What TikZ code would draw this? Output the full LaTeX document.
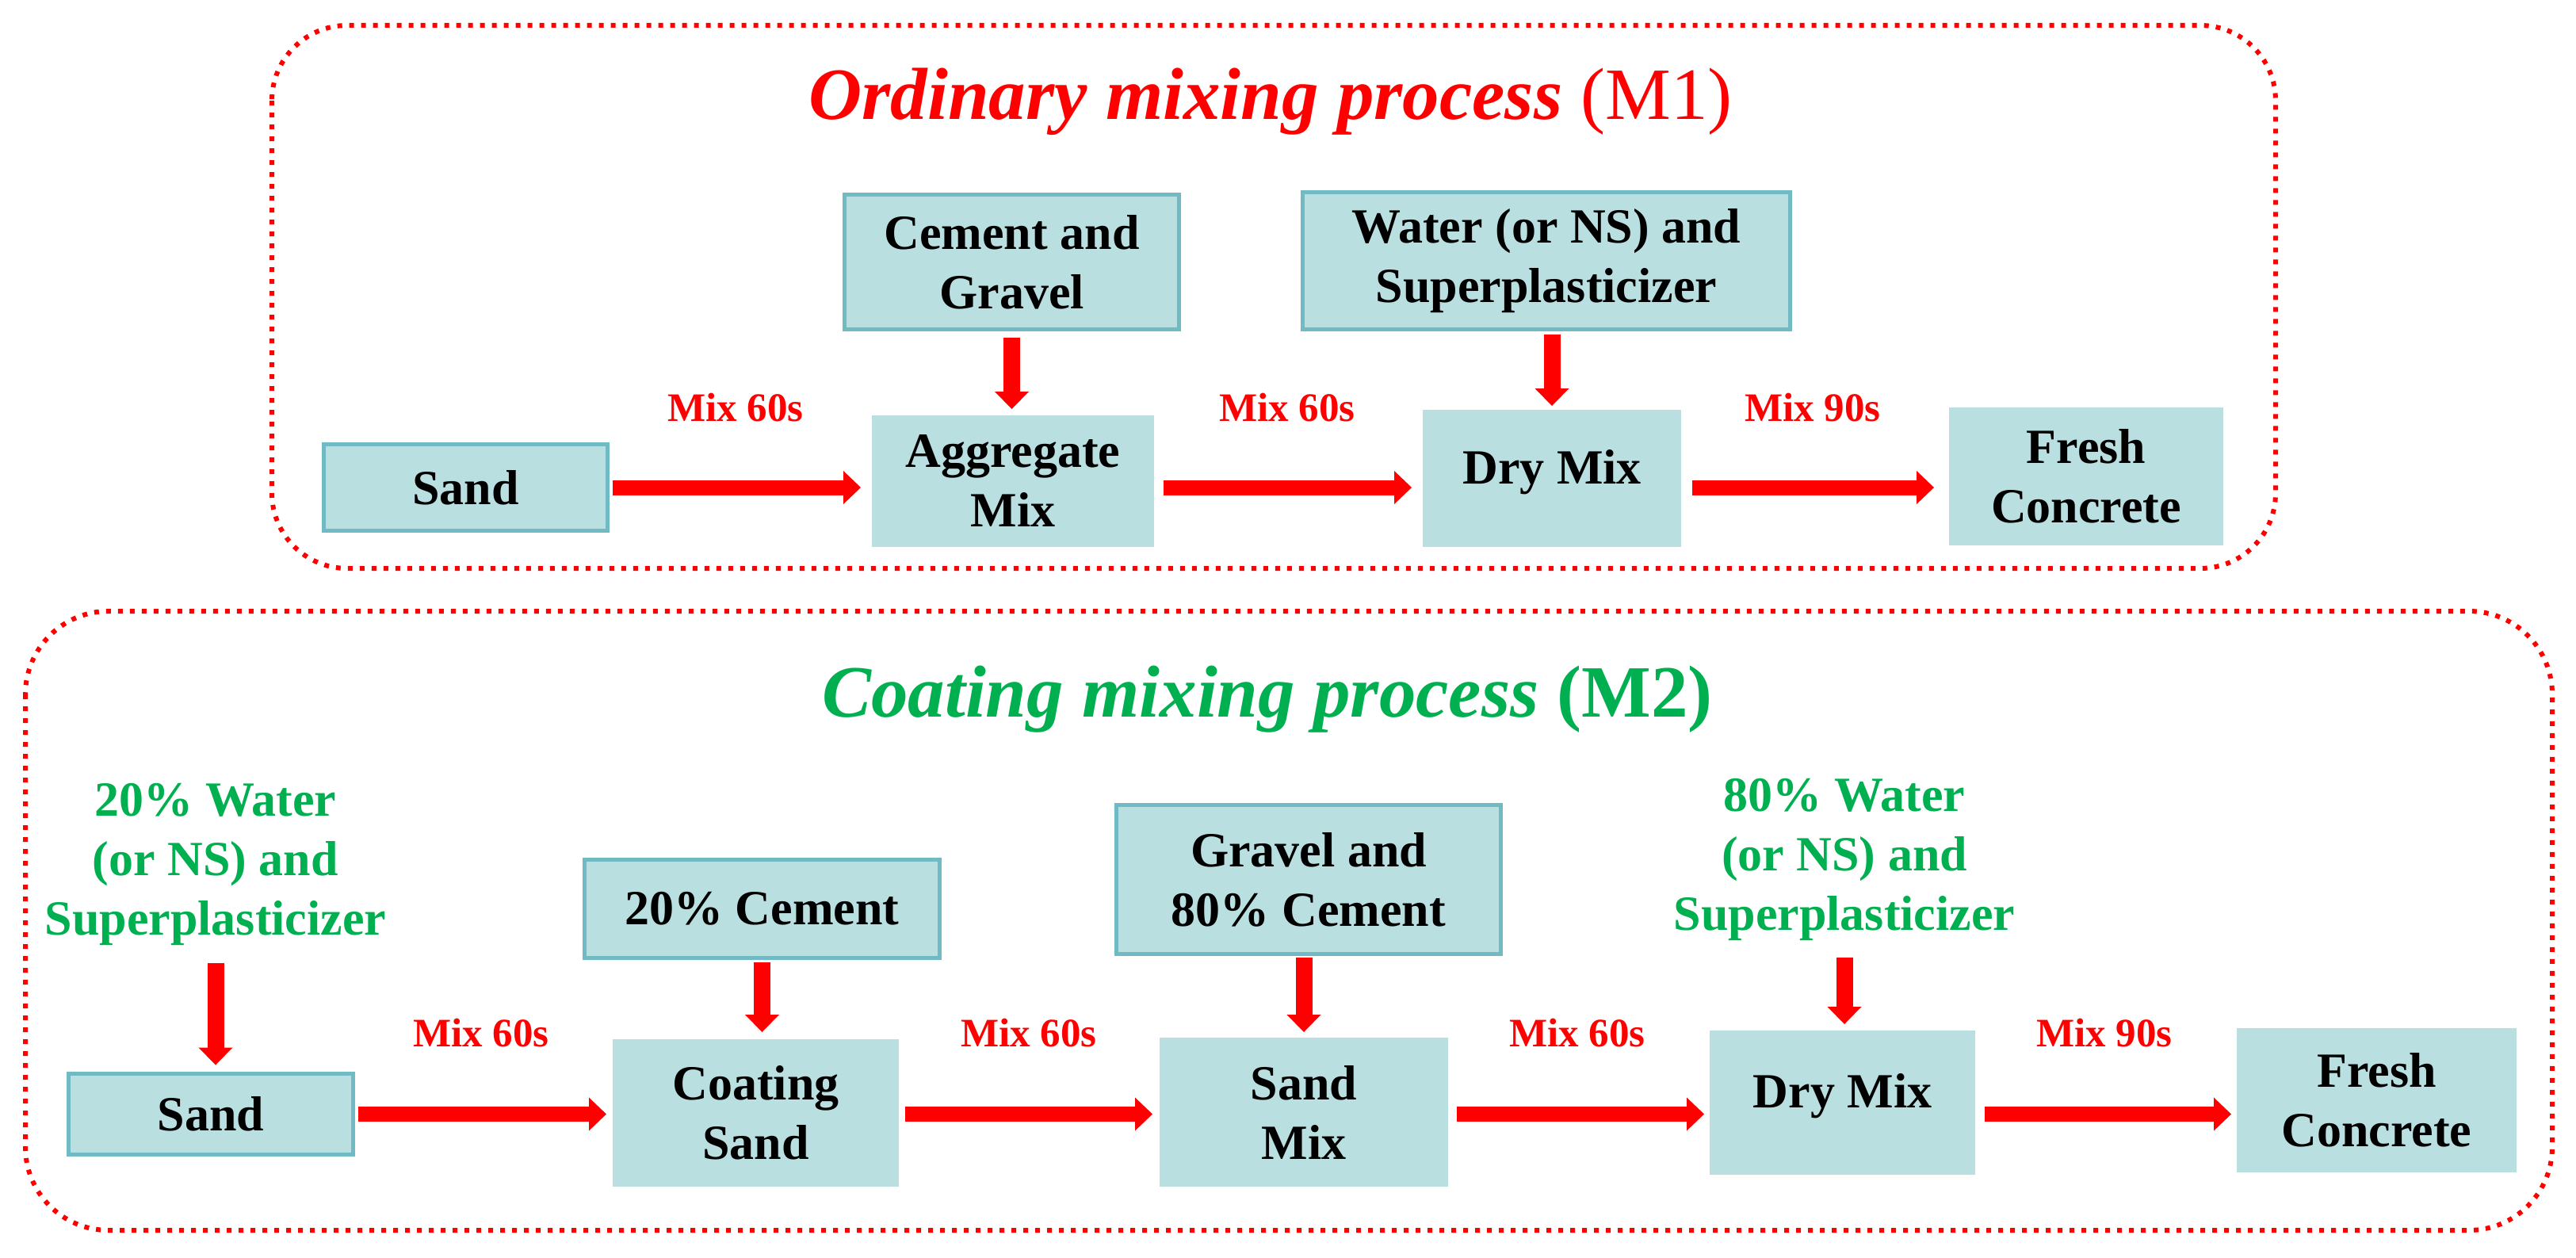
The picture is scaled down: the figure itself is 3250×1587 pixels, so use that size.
\documentclass[tikz,border=0pt]{standalone}
\usepackage{fontspec}
\setmainfont{Liberation Serif}
\usetikzlibrary{arrows.meta,calc}
\definecolor{boxfill}{RGB}{185,223,224}
\definecolor{boxline}{RGB}{112,187,195}
\definecolor{mygreen}{RGB}{0,176,80}
\definecolor{myred}{RGB}{255,0,0}
\begin{document}
\begin{tikzpicture}[x=1pt,y=-1pt,
  box/.style={rectangle, fill=boxfill, inner sep=0pt, outer sep=0pt, align=center, font=\fontsize{62pt}{75pt}\selectfont\bfseries},
  bbox/.style={box, draw=boxline, line width=5pt},
  harr/.style={myred, line width=19pt, -{Triangle[length=22pt,width=42pt,line width=0pt]}},
  varr/.style={myred, line width=21pt, -{Triangle[length=22pt,width=43pt,line width=0pt]}},
  mixlab/.style={anchor=base, text=myred, inner sep=0pt, font=\fontsize{51pt}{61pt}\selectfont\bfseries},
  gtext/.style={text=mygreen, align=center, inner sep=0pt, font=\fontsize{62pt}{75pt}\selectfont\bfseries},
  dotframe/.style={myred, line width=6pt, dash pattern=on 6pt off 9pt},
  ttl/.style={anchor=base, inner sep=0pt, font=\fontsize{93pt}{110pt}\selectfont}
]
\useasboundingbox (0,0) rectangle (3250,1587);

% frames
\draw[dotframe, rounded corners=95pt] (343,32) rectangle (2871,717);
\draw[dotframe, rounded corners=105pt] (32,771) rectangle (3220,1552);

% titles
\node[ttl, text=myred] (t1) at (1603,150) {\textbf{\textit{Ordinary mixing process}} (M1)};
\node[ttl, text=mygreen] (t2) at (1599,904) {\textbf{\textit{Coating mixing process}} \textbf{(M2)}};

% top row
\node[bbox, minimum width=358pt, minimum height=109pt] (sand1) at (587.5,615) {Sand};
\node[bbox, minimum width=422pt, minimum height=170pt] (cg) at (1276.5,330.5) {Cement and\\Gravel};
\node[box, minimum width=356pt, minimum height=166pt] (agg) at (1278,607) {Aggregate\\Mix};
\node[bbox, minimum width=615pt, minimum height=173pt] (water1) at (1951,329) {Water (or NS) and\\Superplasticizer};
\node[box, minimum width=326pt, minimum height=173pt, text depth=30pt] (dry1) at (1958,603.5) {Dry Mix};
\node[box, minimum width=346pt, minimum height=174pt] (fresh1) at (2632,601) {Fresh\\Concrete};

\node[mixlab] (m11) at (928,531) {Mix 60s};
\node[mixlab] (m12) at (1624,531) {Mix 60s};
\node[mixlab] (m13) at (2287,531) {Mix 90s};

\draw[harr, shorten <=6pt, shorten >=14pt] (sand1.east) -- (sand1.east -| agg.west);
\draw[harr, shorten <=12pt, shorten >=14pt] (agg.east |- sand1.east) -- (dry1.west |- sand1.east);
\draw[harr, shorten <=14pt, shorten >=19pt] (dry1.east |- sand1.east) -- (fresh1.west |- sand1.east);
\draw[varr, shorten <=10pt, shorten >=8pt] (cg.south) -- (cg.south |- agg.north);
\draw[varr, shorten <=6pt, shorten >=5pt] (dry1.north |- water1.south) -- (dry1.north);

% bottom row
\node[gtext] (g1) at (272,1090) {20\% Water\\(or NS) and\\Superplasticizer};
\node[gtext] (g2) at (2327,1084) {80\% Water\\(or NS) and\\Superplasticizer};
\node[bbox, minimum width=359pt, minimum height=102pt] (sand2) at (266,1405.5) {Sand};
\node[bbox, minimum width=448pt, minimum height=124pt] (c20) at (961.5,1146.5) {20\% Cement};
\node[box, minimum width=361pt, minimum height=186pt] (coat) at (953.5,1404) {Coating\\Sand};
\node[bbox, minimum width=485pt, minimum height=188pt] (gc80) at (1651,1109.5) {Gravel and\\80\% Cement};
\node[box, minimum width=364pt, minimum height=188pt] (smix) at (1645,1403) {Sand\\Mix};
\node[box, minimum width=335pt, minimum height=182pt, text depth=30pt] (dry2) at (2324.5,1391) {Dry Mix};
\node[box, minimum width=353pt, minimum height=182pt] (fresh2) at (2998.5,1388) {Fresh\\Concrete};

\node[mixlab] (m21) at (607,1320) {Mix 60s};
\node[mixlab] (m22) at (1298,1320) {Mix 60s};
\node[mixlab] (m23) at (1990,1320) {Mix 60s};
\node[mixlab] (m24) at (2655,1320) {Mix 90s};

\draw[harr, shorten <=6pt, shorten >=8pt] (sand2.east) -- (sand2.east -| coat.west);
\draw[harr, shorten <=8pt, shorten >=9pt] (coat.east |- sand2.east) -- (smix.west |- sand2.east);
\draw[harr, shorten <=11pt, shorten >=7pt] (smix.east |- sand2.east) -- (dry2.west |- sand2.east);
\draw[harr, shorten <=12pt, shorten >=7pt] (dry2.east |- sand2.east) -- (fresh2.west |- sand2.east);
\draw[varr, shorten <=23pt, shorten >=11pt] (g1.south) -- (g1.south |- sand2.north);
\draw[varr, shorten <=5pt, shorten >=9pt] (c20.south) -- (c20.south |- coat.north);
\draw[varr, shorten <=4pt, shorten >=7pt] (smix.north |- gc80.south) -- (smix.north);
\draw[varr, shorten <=22pt, shorten >=8pt] (g2.south) -- (g2.south |- dry2.north);
\end{tikzpicture}
\end{document}
